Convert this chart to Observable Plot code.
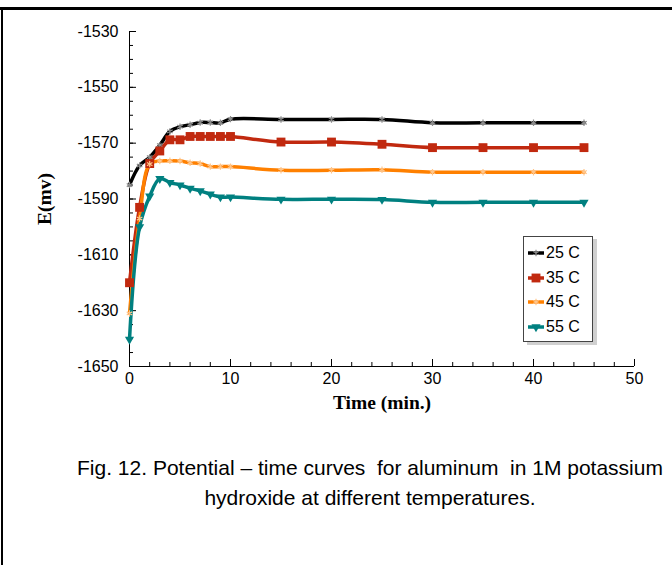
<!DOCTYPE html>
<html>
<head>
<meta charset="utf-8">
<script src="https://cdn.jsdelivr.net/npm/d3@7"></script>
<script src="https://cdn.jsdelivr.net/npm/@observablehq/plot@0.6"></script>
<style>
  body { margin: 0; background: #fff; }
  #wrap { position: relative; width: 672px; height: 565px; background: #fff; overflow: hidden; font-family: "Liberation Sans", Arial, sans-serif; }
  #topline { position: absolute; left: 0; top: 7px; width: 672px; height: 3px; background: #000; }
  #leftline { position: absolute; left: 1px; top: 8px; width: 1.5px; height: 560px; background: #000; }
  #chart { position: absolute; left: 0; top: 0; }
  #legend { position: absolute; left: 523px; top: 236px; width: 68px; height: 104px; border: 1px solid #444; background: #fff; box-shadow: 4px 3px 0 #d0d0d0; }
  .row { position: absolute; left: 4px; height: 20px; display: flex; align-items: center; font-size: 16px; color: #000; }
  .row svg { margin-right: 2px; }
  #caption { position: absolute; left: 55px; top: 453px; width: 630px; text-align: center; font-size: 21px; line-height: 30px; color: #000; }
</style>
</head>
<body>
<div id="wrap">
  <div id="chart"></div>
  <div id="topline"></div>
  <div id="leftline"></div>
  <div id="legend"></div>
  <div id="caption">Fig. 12. Potential – time curves&nbsp; for aluminum&nbsp; in 1M potassium<br>hydroxide at different temperatures.</div>
</div>
<script>
const times = [0, 1, 2, 3, 4, 5, 6, 7, 8, 9, 10, 15, 20, 25, 30, 35, 40, 45];
const e25 = [-1585, -1578, -1575, -1570.7, -1565.8, -1564.1, -1563.4, -1562.6, -1562.6, -1562.7, -1561.4, -1561.5, -1561.5, -1561.5, -1562.7, -1562.7, -1562.7, -1562.7];
const e35 = [-1620, -1593, -1577.3, -1572.8, -1568.8, -1568.8, -1567.6, -1567.6, -1567.6, -1567.6, -1567.6, -1569.6, -1569.6, -1570.4, -1571.6, -1571.6, -1571.6, -1571.6];
const e45 = [-1631, -1597, -1577.5, -1576.4, -1576.3, -1576.4, -1577, -1577.3, -1578.4, -1578.4, -1578.4, -1579.7, -1579.7, -1579.5, -1580.4, -1580.4, -1580.4, -1580.4];
const e55 = [-1640.3, -1600, -1589, -1582.7, -1584.1, -1585, -1586.2, -1587.1, -1588.3, -1589.3, -1589.3, -1590.1, -1590.1, -1590.2, -1591.2, -1591.2, -1591.2, -1591.2];
const seriesNames = ["25 C", "35 C", "45 C", "55 C"];
const yTickLabels = [-1650, -1630, -1610, -1590, -1570, -1550, -1530];
const yMinorTicks = d3.range(-1650, -1529, 5);
const xTickLabels = [0, 10, 20, 30, 40, 50];
const xMinorTicks = d3.range(0, 51, 2);

const values = [e25, e35, e45, e55];
const colors = ["#000000", "#c1290f", "#ff8000", "#008080"];
const markerStyles = [
  {symbol: "asterisk", r: 3, stroke: "#8c8c8c", fill: "none", strokeWidth: 1.2},
  {symbol: "square", r: 5, fill: "#c1290f", stroke: "none"},
  {symbol: "asterisk", r: 3, stroke: "#ffc58a", fill: "none", strokeWidth: 1.2},
  {symbol: "triangle", r: 3.4, fill: "#008080", stroke: "none", rotate: 180}
];

const W = 672, H = 440, ML = 129, MR = 38, MT = 31, MB = 74;
const FW = W - ML - MR, FH = H - MT - MB;

const marks = [];
marks.push(Plot.ruleX([0], {stroke: "#000", strokeWidth: 1}));
marks.push(Plot.ruleY([-1650], {stroke: "#000", strokeWidth: 1}));
marks.push(Plot.tickY(yMinorTicks, {y: d => d, insetRight: FW - 4, stroke: "#000"}));
marks.push(Plot.tickY(yTickLabels, {y: d => d, insetRight: FW - 7, stroke: "#000"}));
marks.push(Plot.tickX(xMinorTicks, {x: d => d, insetTop: FH - 4, stroke: "#000"}));
marks.push(Plot.tickX(xTickLabels, {x: d => d, insetTop: FH - 7, stroke: "#000"}));

seriesNames.forEach((s, k) => {
  const d = times.map((t, i) => ({t, v: values[k][i], s}));
  marks.push(Plot.line(d, {x: "t", y: "v", stroke: colors[k], strokeWidth: 3.5, curve: "catmull-rom"}));
});
seriesNames.forEach((s, k) => {
  const d = times.map((t, i) => ({t, v: values[k][i], s}));
  marks.push(Plot.dot(d, {x: "t", y: "v", ...markerStyles[k]}));
});

marks.push(Plot.axisY({ticks: yTickLabels, tickSize: 0, tickPadding: 11, tickFormat: d => String(d), label: null, fontSize: 16}));
marks.push(Plot.axisX({ticks: xTickLabels, tickSize: 0, tickPadding: 6, tickFormat: d => String(d), label: null, fontSize: 16}));
marks.push(Plot.text(["E(mv)"], {text: d => d, frameAnchor: "left", dx: -85, rotate: -90, textAnchor: "middle", lineAnchor: "middle", fontFamily: "Liberation Serif, Times New Roman, serif", fontWeight: "bold", fontSize: 19.5, fill: "#000"}));
marks.push(Plot.text(["Time (min.)"], {text: d => d, frameAnchor: "bottom", dy: 42, lineAnchor: "bottom", fontFamily: "Liberation Serif, Times New Roman, serif", fontWeight: "bold", fontSize: 19.5, fill: "#000"}));

const chart = Plot.plot({
  width: W, height: H,
  marginLeft: ML, marginRight: MR, marginTop: MT, marginBottom: MB,
  x: {domain: [0, 50]},
  y: {domain: [-1650, -1530]},
  style: {fontFamily: "Liberation Sans, Arial, sans-serif", fontSize: "16px", color: "#000", background: "transparent", overflow: "visible"},
  marks
});
document.getElementById("chart").appendChild(chart);

// Legend
const legend = document.getElementById("legend");
const rowTops = [6, 31, 55, 80];
seriesNames.forEach((s, k) => {
  const row = document.createElement("div");
  row.className = "row";
  row.style.top = rowTops[k] + "px";
  const svg = d3.create("svg").attr("width", 16).attr("height", 12);
  svg.append("line").attr("x1", 0).attr("x2", 16).attr("y1", 6).attr("y2", 6)
    .attr("stroke", colors[k]).attr("stroke-width", 3.5);
  const m = markerStyles[k];
  const symType = {asterisk: d3.symbolAsterisk, square: d3.symbolSquare, triangle: d3.symbolTriangle}[m.symbol];
  svg.append("path").attr("d", d3.symbol(symType, Math.PI * m.r * m.r)())
    .attr("transform", `translate(8,6) rotate(${m.rotate || 0})`)
    .attr("fill", m.fill).attr("stroke", m.stroke).attr("stroke-width", m.strokeWidth || 0);
  row.appendChild(svg.node());
  const span = document.createElement("span");
  span.textContent = s;
  row.appendChild(span);
  legend.appendChild(row);
});
</script>
</body>
</html>
